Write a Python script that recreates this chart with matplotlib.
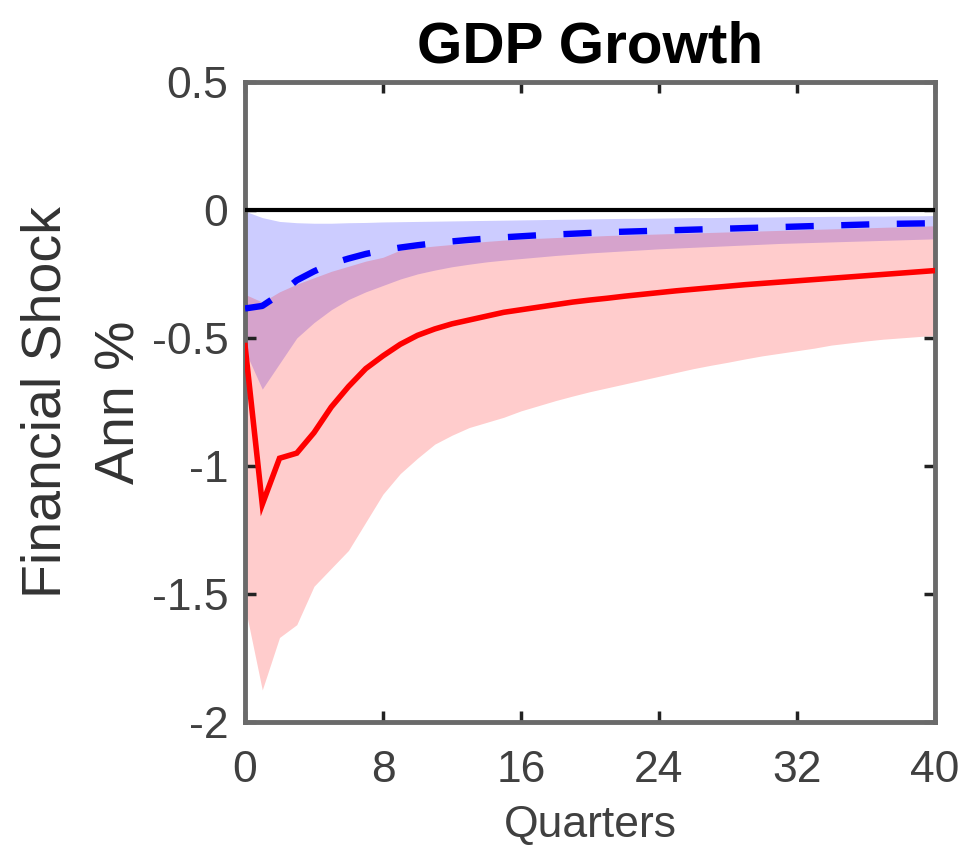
import matplotlib
matplotlib.use("Agg")
import matplotlib.pyplot as plt
import numpy as np

plt.rcParams['font.family'] = ['Liberation Sans', 'DejaVu Sans']

# Impulse responses of annualised GDP growth to a financial shock (quarters 0..40)
quarters = list(range(41))

red_median = [-0.53, -1.15, -0.97, -0.95, -0.87, -0.77, -0.69, -0.62, -0.57, -0.525,
              -0.49, -0.465, -0.445, -0.43, -0.415, -0.40, -0.39, -0.38, -0.37, -0.36,
              -0.352, -0.345, -0.337, -0.33, -0.323, -0.316, -0.31, -0.304, -0.298, -0.292,
              -0.287, -0.282, -0.277, -0.272, -0.267, -0.262, -0.257, -0.252, -0.247, -0.242,
              -0.237]
red_upper = [-0.33, -0.36, -0.32, -0.29, -0.265, -0.24, -0.22, -0.20, -0.185, -0.157,
             -0.148, -0.141, -0.135, -0.129, -0.123, -0.118, -0.114, -0.111, -0.108, -0.105,
             -0.103, -0.10, -0.098, -0.096, -0.094, -0.092, -0.09, -0.088, -0.086, -0.084,
             -0.082, -0.08, -0.078, -0.076, -0.074, -0.072, -0.07, -0.068, -0.066, -0.064,
             -0.062]
red_lower = [-1.55, -1.875, -1.67, -1.62, -1.47, -1.40, -1.33, -1.22, -1.11, -1.03,
             -0.97, -0.915, -0.88, -0.85, -0.83, -0.81, -0.785, -0.765, -0.745, -0.727,
             -0.71, -0.695, -0.68, -0.665, -0.65, -0.635, -0.62, -0.607, -0.595, -0.582,
             -0.57, -0.56, -0.55, -0.54, -0.528, -0.52, -0.512, -0.505, -0.50, -0.495,
             -0.49]

blue_median = [-0.385, -0.375, -0.33, -0.275, -0.24, -0.21, -0.19, -0.172, -0.158, -0.147,
               -0.138, -0.13, -0.123, -0.117, -0.112, -0.107, -0.103, -0.099, -0.096, -0.093,
               -0.09, -0.087, -0.085, -0.083, -0.081, -0.079, -0.077, -0.075, -0.073, -0.071,
               -0.069, -0.067, -0.065, -0.063, -0.061, -0.059, -0.057, -0.055, -0.054, -0.053,
               -0.052]
blue_upper = [-0.005, -0.03, -0.045, -0.05, -0.052, -0.052, -0.05, -0.049, -0.047, -0.046,
              -0.045, -0.044, -0.043, -0.042, -0.041, -0.04, -0.039, -0.038, -0.037, -0.036,
              -0.035, -0.034, -0.033, -0.033, -0.032, -0.031, -0.03, -0.03, -0.029, -0.028,
              -0.028, -0.027, -0.026, -0.026, -0.025, -0.025, -0.024, -0.024, -0.023, -0.023,
              -0.022]
blue_lower = [-0.55, -0.70, -0.60, -0.50, -0.44, -0.39, -0.35, -0.32, -0.295, -0.27,
              -0.25, -0.235, -0.222, -0.212, -0.203, -0.196, -0.19, -0.184, -0.178, -0.173,
              -0.168, -0.164, -0.16, -0.156, -0.152, -0.149, -0.146, -0.143, -0.14, -0.137,
              -0.134, -0.131, -0.129, -0.127, -0.125, -0.123, -0.121, -0.119, -0.117, -0.115,
              -0.113]

x_ticks = [0, 8, 16, 24, 32, 40]
y_ticks = [0.5, 0, -0.5, -1, -1.5, -2]
y_tick_labels = ['0.5', '0', '-0.5', '-1', '-1.5', '-2']

fig = plt.figure(figsize=(9.77, 8.46), dpi=100)
ax = fig.add_axes([0.2508, 0.1466, 0.706, 0.7566])

ax.fill_between(quarters, blue_lower, blue_upper, color=(0.0, 0.0, 1.0), alpha=0.2,
                linewidth=0)
ax.fill_between(quarters, red_lower, red_upper, color=(1.0, 0.0, 0.0), alpha=0.2,
                linewidth=0)
ax.axhline(0, color='black', linewidth=3.0, zorder=3)
ax.plot(quarters, red_median, color='#ff0000', linewidth=4.0, zorder=4,
        solid_joinstyle='miter')
ax.plot(quarters, blue_median, color='#0000ff', linewidth=4.6,
        linestyle=(0, (4.4, 4.3)), zorder=4)

ax.set_xlim(0, 40)
ax.set_ylim(-2, 0.5)
ax.set_xticks(x_ticks)
ax.set_xticklabels([str(t) for t in x_ticks])
ax.set_yticks(y_ticks)
ax.set_yticklabels(y_tick_labels)

for side in ax.spines.values():
    side.set_linewidth(3.5)
    side.set_color('#6a6a6a')

ax.tick_params(axis='both', which='major', direction='in', top=True, right=True,
               length=8, width=2.5, color='#222222', labelsize=32, labelcolor='#404040')
ax.tick_params(axis='x', pad=20)
ax.tick_params(axis='y', pad=12)

ax.set_title('GDP Growth', fontsize=42, fontweight='bold', color='black', pad=14)
ax.set_xlabel('Quarters', fontsize=32, color='#404040', labelpad=10)
ax.set_ylabel('Financial Shock\nAnn %', fontsize=40, color='#333333', labelpad=4,
              linespacing=1.55)

fig.savefig('out.png', dpi=100)
